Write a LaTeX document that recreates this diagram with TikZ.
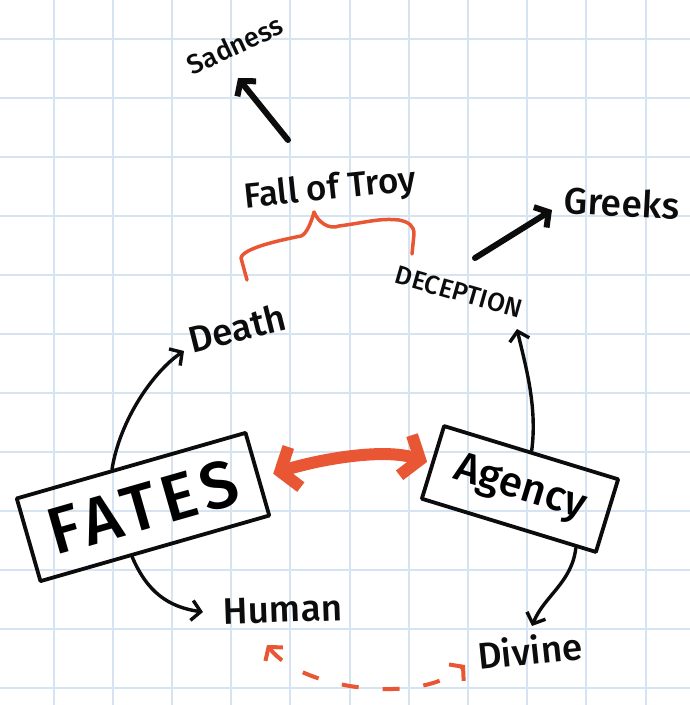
\documentclass[tikz,border=0pt]{standalone}
\usepackage{fontspec}
\setmainfont{Fira Sans}[UprightFont={* Medium}]
\usetikzlibrary{arrows.meta,calc}
\definecolor{ink}{RGB}{12,12,12}
\definecolor{marker}{RGB}{232,86,52}
\definecolor{gridblue}{RGB}{214,228,241}
\begin{document}
\begin{tikzpicture}[x=1pt,y=-1pt,
  word/.style={inner sep=1pt, text=ink},
  card/.style={draw=ink, line width=3.8pt, inner sep=0pt, line join=round},
  pen/.style={draw=ink, line width=3.4pt, line cap=round,
    -{Straight Barb[length=9pt,width=20pt]}},
  boldpen/.style={draw=ink, line width=6pt, line cap=round,
    -{Straight Barb[length=10pt,width=24pt]}},
  markerpen/.style={draw=marker, line width=12pt,
    {Straight Barb[length=15pt,width=42pt]}-{Straight Barb[length=15pt,width=42pt]}},
  dashpen/.style={draw=marker, line width=4pt, dash pattern=on 17pt off 24pt,
    {Straight Barb[length=9pt,width=22pt]}-{Straight Barb[length=9pt,width=22pt]}},
  bracepen/.style={draw=marker, line width=3.5pt, line cap=round, line join=round}
]
\useasboundingbox (0,0) rectangle (690,705);
\fill[white] (0,0) rectangle (690,705);

% squared paper
\foreach \k in {0,...,10}
  \draw[gridblue, line width=2pt] ({53.5+59.2*\k},0) -- ++(0,705);
\foreach \k in {0,...,11}
  \draw[gridblue, line width=2pt] (0,{38.5+59*\k}) -- ++(690,0);

% labels
\node[word, rotate=25, font=\fontsize{27}{29}\selectfont] (sad) at (235,45) {Sadness};
\node[word, rotate=6, font=\fontsize{35}{37}\selectfont] (troy) at (330,190) {Fall of Troy};
\node[word, rotate=14, font=\fontsize{37}{39}\selectfont] (death) at (237,328) {Death};
\node[word, rotate=-16, font=\fontsize{26}{28}\selectfont] (decep) at (459,292) {DECEPTION};
\node[word, rotate=-3, font=\fontsize{37}{39}\selectfont] (greeks) at (622,203) {Greeks};
\node[word, rotate=2, font=\fontsize{37}{39}\selectfont] (human) at (283,610) {Human};
\node[word, rotate=6, font=\fontsize{37}{39}\selectfont] (divine) at (530,650) {Divine};

% boxed concepts
\node[card, rotate=16, minimum width=238pt, minimum height=86pt,
      font=\fontsize{66}{68}\selectfont\addfontfeature{LetterSpace=9}] (fates) at (143,507) {FATES};
\node[card, rotate=-17, minimum width=182pt, minimum height=76pt,
      font=\fontsize{42}{44}\selectfont] (agency) at (520,489) {Agency};

% black connectors
\draw[boldpen] ([shift={(-42,-50)}]troy.center) -- ([shift={(3,33)}]sad.center);
\draw[boldpen] ([shift={(16,-34)}]decep.center) -- ([shift={(-70,7)}]greeks.center);
\draw[pen] ($(fates.north west)!0.42!(fates.north east)$)
  .. controls +(8,-50) and +(-30,20) .. ([shift={(-53,23)}]death.center);
\draw[pen] ($(fates.south west)!0.40!(fates.south east)$)
  .. controls +(15,35) and +(-35,-5) .. ([shift={(-80,2)}]human.center);
\draw[pen] (agency.north)
  .. controls +(6,-45) and +(8,35) .. ([shift={(58,37)}]decep.center);
\draw[pen] ($(agency.south west)!0.88!(agency.south east)$)
  .. controls +(-4,35) and +(12,-30) .. ([shift={(2,-24)}]divine.center);

% orange links
\draw[markerpen] ([xshift=14pt]fates.east)
  .. controls +(45,-14) and +(-45,-14) .. ([xshift=-4pt]agency.west);
\draw[dashpen] ([shift={(-16,35)}]human.center)
  .. controls +(35,45) and +(-45,40) .. ([shift={(-65,15)}]divine.center);

% brace joining Death and Deception under Fall of Troy
\draw[bracepen] ([shift={(-83,90)}]troy.center) -- ++(-6,-22)
  .. controls +(2,-10) and +(-20,4) .. ++(60,-22)
  .. controls +(6,-2) and +(-2,8) .. ++(13,-24)
  .. controls +(4,10) and +(-10,4) .. ++(25,14)
  .. controls +(30,-4) and +(-20,-2) .. ++(60,-6)
  .. controls +(10,2) and +(0,-8) .. ++(15,14)
  -- ++(-2,20);
\end{tikzpicture}
\end{document}
